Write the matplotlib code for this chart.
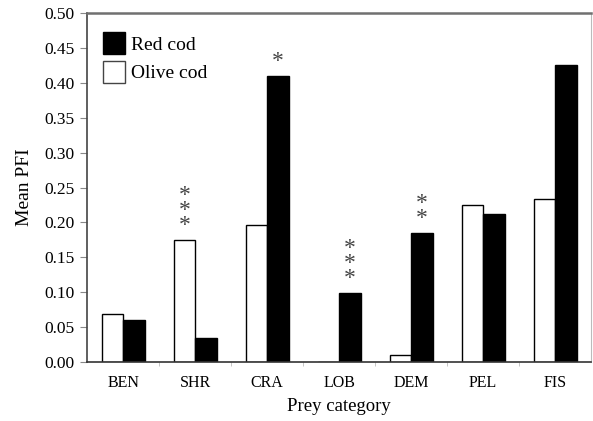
import numpy as np
import matplotlib
matplotlib.use("Agg")
import matplotlib.pyplot as plt
from matplotlib.lines import Line2D

plt.rcParams["font.family"] = ["Liberation Serif", "DejaVu Serif"]

categorias = ["BEN", "SHR", "CRA", "LOB", "DEM", "PEL", "FIS"]
olive_cod = [0.069, 0.175, 0.196, 0.0, 0.010, 0.225, 0.233]
red_cod = [0.060, 0.034, 0.410, 0.099, 0.185, 0.212, 0.425]
# significance marks: (category index, series, marks)
marcas = [(1, "olive", 3), (2, "red", 1), (3, "red", 3), (4, "red", 2)]

fig = plt.figure(figsize=(5.93, 4.21), dpi=100)
ax = fig.add_axes([0.147, 0.140, 0.850, 0.829])

x = np.arange(len(categorias))
ancho = 0.3
ax.bar(x - ancho / 2, olive_cod, ancho, color="white", edgecolor="black", linewidth=1.0)
ax.bar(x + ancho / 2, red_cod, ancho, color="black", edgecolor="black", linewidth=1.0)

for i, serie, n in marcas:
    xi = x[i] - ancho / 2 if serie == "olive" else x[i] + ancho / 2
    yi = olive_cod[i] if serie == "olive" else red_cod[i]
    ax.annotate("\n".join(["*"] * n), (xi, yi), xytext=(0, 3), textcoords="offset points",
                ha="center", va="bottom", fontsize=17, color="#444444", linespacing=0.62)

ax.set_xlim(-0.5, len(categorias) - 0.5)
ax.set_ylim(0, 0.5)
ax.set_yticks(np.arange(0, 0.501, 0.05))
ax.set_yticklabels([f"{v:.2f}" for v in np.arange(0, 0.501, 0.05)])
ax.set_xticks(x)
ax.set_xticklabels(categorias)
ax.tick_params(axis="x", length=0, labelsize=11.5, pad=9)
ax.set_xticks(np.arange(0.5, len(categorias) - 0.5, 1), minor=True)
ax.tick_params(axis="x", which="minor", length=3, color="#bbbbbb", direction="out")
ax.tick_params(axis="y", length=5, labelsize=12.5, direction="out", color="#888888", pad=4)

ax.spines["top"].set_color("#707070")
ax.spines["top"].set_linewidth(1.8)
ax.spines["right"].set_color("#bbbbbb")
ax.spines["right"].set_linewidth(0.8)
ax.spines["left"].set_color("#444444")
ax.spines["left"].set_linewidth(1.2)
ax.spines["bottom"].set_color("#333333")
ax.spines["bottom"].set_linewidth(1.2)

ax.set_xlabel("Prey category", fontsize=13.5, labelpad=5)
ax.set_ylabel("Mean PFI", fontsize=14, labelpad=8)

handles = [
    Line2D([], [], marker="s", linestyle="none", markersize=16, markerfacecolor="black",
           markeredgecolor="black"),
    Line2D([], [], marker="s", linestyle="none", markersize=16, markerfacecolor="white",
           markeredgecolor="#444444"),
]
ax.legend(handles, ["Red cod", "Olive cod"], loc="upper left", frameon=False, fontsize=14,
          handletextpad=0.25, labelspacing=0.55, borderaxespad=0.39, handlelength=1.2,
          bbox_to_anchor=(0.0, 0.977))

fig.savefig("out.png", dpi=100)
